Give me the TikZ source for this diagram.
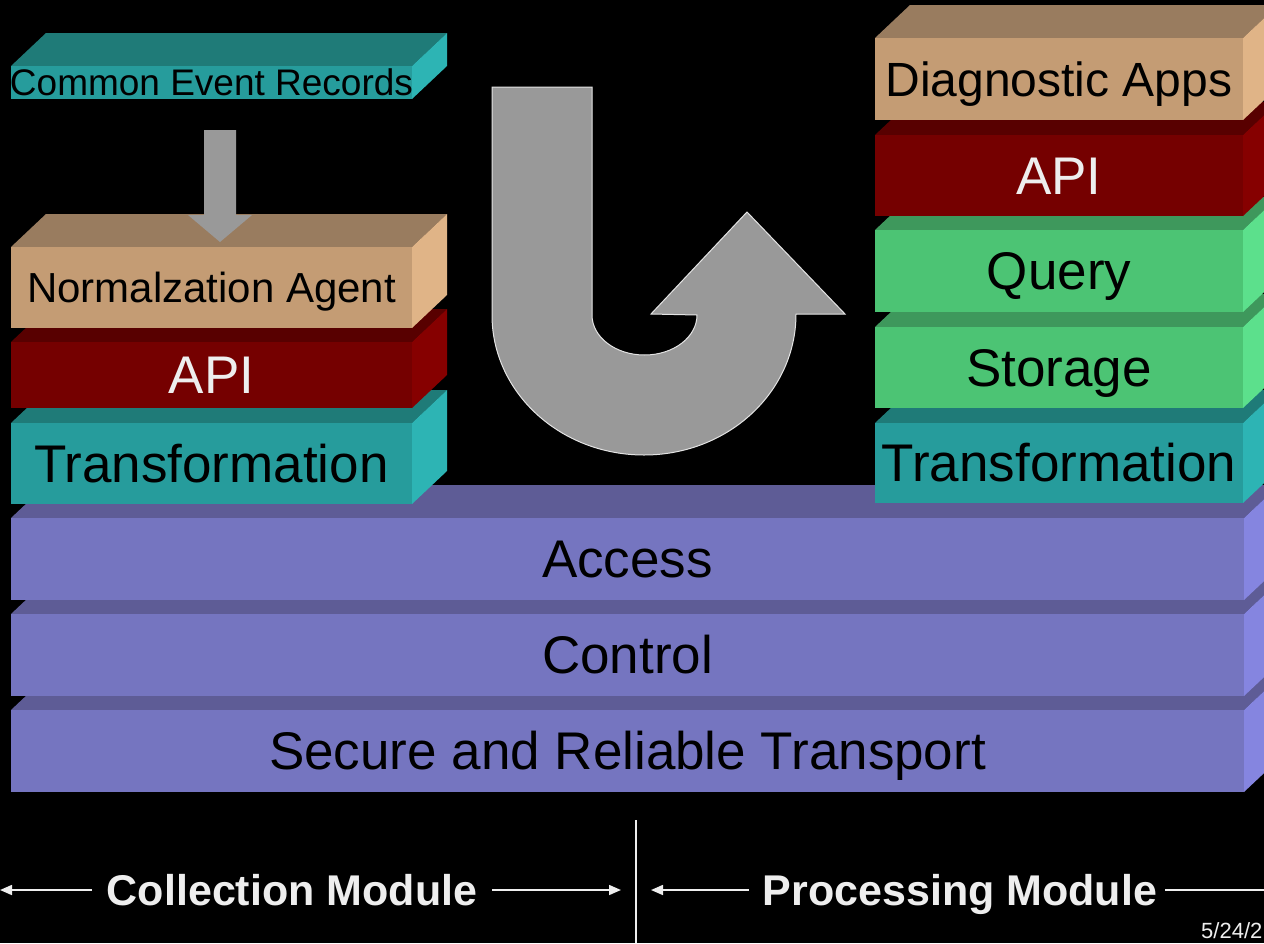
\documentclass[tikz,border=0pt]{standalone}
\usepackage{fontspec}
\setmainfont{Liberation Sans}
\usetikzlibrary{arrows.meta}
\definecolor{tealfront}{RGB}{38,156,156}
\definecolor{tealtop}{RGB}{31,123,120}
\definecolor{tealside}{RGB}{45,180,180}
\definecolor{tanfront}{RGB}{196,156,116}
\definecolor{tantop}{RGB}{153,124,95}
\definecolor{tanside}{RGB}{224,180,135}
\definecolor{redfront}{RGB}{117,0,0}
\definecolor{redtop}{RGB}{88,0,0}
\definecolor{redside}{RGB}{134,0,0}
\definecolor{greenfront}{RGB}{76,196,116}
\definecolor{greentop}{RGB}{62,152,92}
\definecolor{greenside}{RGB}{92,224,140}
\definecolor{purpfront}{RGB}{117,117,192}
\definecolor{purptop}{RGB}{94,92,150}
\definecolor{purpside}{RGB}{133,133,224}
\definecolor{arrowgray}{RGB}{153,153,153}
\definecolor{lighttext}{RGB}{238,238,238}
% #1 name, #2 x1, #3 y1, #4 x2, #5 y2, #6 colour prefix, #7 font size, #8 text colour, #9 text
\newcommand{\slab}[9]{%
  \fill[#6top] (#2,#3) -- (#2+35,#3-33) -- (#4+35,#3-33) -- (#4,#3) -- cycle;
  \fill[#6side] (#4,#3) -- (#4+35,#3-33) -- (#4+35,#5-33) -- (#4,#5) -- cycle;
  \fill[#6front] (#2,#3) rectangle (#4,#5);
  \node[anchor=base, text=#8, font=\fontsize{#7}{#7}\selectfont, inner sep=0pt]
    (#1) at ({(#2+#4)/2},{(#3+#5)/2+0.358*#7}) {#9};
}
\tikzset{
  modarrow/.style={draw=lighttext, line width=1.6pt, -{Triangle[length=12pt,width=10pt]}},
  modline/.style={draw=lighttext, line width=1.6pt},
  modlabel/.style={text=lighttext, font=\bfseries\fontsize{43}{43}\selectfont, inner sep=0pt, anchor=base},
}
\begin{document}
\begin{tikzpicture}[x=1pt,y=-1pt]
\fill[black] (0,0) rectangle (1264,943);
\useasboundingbox (0,0) rectangle (1264,943);

% base layers
\slab{secure}{11}{710}{1244}{792}{purp}{53}{black}{Secure and Reliable Transport}
\slab{control}{11}{614}{1244}{696}{purp}{53}{black}{Control}
\slab{access}{11}{518}{1244}{600}{purp}{53}{black}{Access}

% collection stack
\slab{ltrans}{11}{423}{412}{504}{teal}{53}{black}{Transformation}
\slab{lapi}{11}{342}{412}{408}{red}{53}{lighttext}{API}
\slab{norm}{11}{247}{412}{328}{tan}{42}{black}{Normalzation Agent}
\slab{cer}{11}{66}{412}{99}{teal}{37}{black}{Common Event Records}

% processing stack
\slab{rtrans}{875}{423}{1243}{503}{teal}{53}{black}{Transformation}
\slab{storage}{875}{327}{1243}{408}{green}{53}{black}{Storage}
\slab{query}{875}{230}{1243}{312}{green}{53}{black}{Query}
\slab{rapi}{875}{135}{1243}{216}{red}{53}{lighttext}{API}
\slab{diag}{875}{38}{1243}{120}{tan}{48}{black}{Diagnostic Apps}

% down arrow into normalization agent
\fill[arrowgray] (204,130) -- (236,130) -- (236,215) -- (252,215) -- (220,242)
  -- (188,215) -- (204,215) -- cycle;

% U-turn arrow
\filldraw[fill=arrowgray, draw=lighttext!90!gray, line width=1pt]
  (492,87) -- (592,87) -- (592,315)
  .. controls (592,337.1) and (615.5,355) .. (644.5,355)
  .. controls (673.5,355) and (697,337.1) .. (697,315)
  -- (651,314) -- (747,212) -- (845,314) -- (796,314)
  .. controls (796,392.3) and (727.9,455) .. (644,455)
  .. controls (560.1,455) and (492,392.3) .. (492,315) -- cycle;

% module labels
\node[modlabel] (coll) at (292,905) {Collection Module};
\node[modlabel] (proc) at (960,905) {Processing Module};
\coordinate (cA) at (92,890);
\coordinate (cB) at (0,890);
\coordinate (cC) at (492,890);
\coordinate (cD) at (621,890);
\coordinate (pA) at (749,890);
\coordinate (pB) at (651,890);
\coordinate (pC) at (1165,890);
\coordinate (pD) at (1264,890);
\draw[modarrow] (cA) -- (cB);
\draw[modarrow] (cC) -- (cD);
\draw[modarrow] (pA) -- (pB);
\draw[modline] (pC) -- (pD);
\coordinate (divT) at (636,820);
\coordinate (divB) at (636,943);
\draw[modline] (divT) -- (divB);
\node[anchor=base west, text=lighttext, font=\fontsize{22}{22}\selectfont, inner sep=0pt] (date) at (1201,938) {5/24/2};
\end{tikzpicture}
\end{document}
